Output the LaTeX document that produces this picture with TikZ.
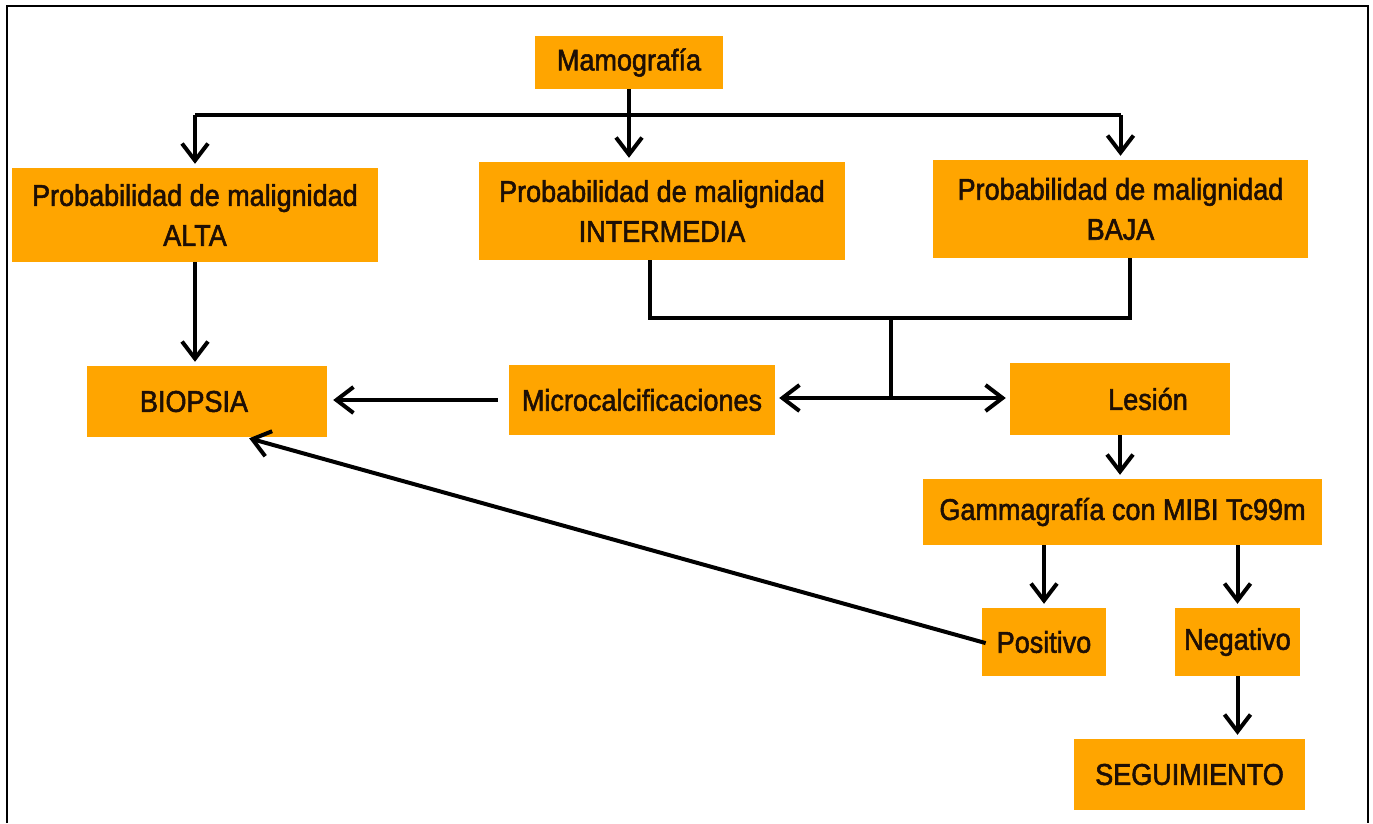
\documentclass[tikz,border=0pt]{standalone}
\usepackage{fontspec}
\setmainfont{Liberation Sans}[FakeStretch=0.9,FakeBold=1.8]
\usetikzlibrary{arrows.meta}
\definecolor{boxorange}{RGB}{255,165,0}
\definecolor{ink}{RGB}{30,15,5}
\begin{document}
\begin{tikzpicture}[x=1pt,y=-1pt,
  box/.style={fill=boxorange, draw=none, inner sep=0pt, text=ink,
    font=\fontsize{30}{40}\selectfont},
  conn/.style={line width=4pt, draw=black},
  arr/.style={conn, -{Straight Barb[length=17pt,width=26pt,line width=4pt]}, shorten >=4pt},
  frame/.style={line width=2.5pt}]
\useasboundingbox (0,0) rectangle (1373,823);
\draw[frame] (7,823) -- (7,6) -- (1368,6) -- (1368,823);

\node[box, minimum width=188pt, minimum height=53pt] (mam) at (629,62.5) {Mamografía};
\node[box, align=center, minimum width=366pt, minimum height=94pt] (alta) at (195,215) {Probabilidad de malignidad\\ALTA};
\node[box, align=center, minimum width=366pt, minimum height=98pt] (inter) at (662,211) {Probabilidad de malignidad\\INTERMEDIA};
\node[box, align=center, minimum width=375pt, minimum height=98pt] (baja) at (1120.5,209) {Probabilidad de malignidad\\BAJA};
\node[box, minimum width=240pt, minimum height=71pt] (biopsia) at (207,401.5) {BIOPSIA\hspace*{26pt}};
\node[box, minimum width=266pt, minimum height=70pt] (micro) at (642,400) {Microcalcificaciones};
\node[box, minimum width=220pt, minimum height=72pt] (lesion) at (1120,399) {\hspace*{56pt}Lesión};
\node[box, minimum width=399pt, minimum height=66pt] (gamma) at (1122.5,512) {Gammagrafía con MIBI Tc99m};
\node[box, minimum width=124pt, minimum height=68pt] (pos) at (1044,642) {Positivo};
\node[box, minimum width=125pt, minimum height=68pt] (neg) at (1237.5,642) {Negativo};
\node[box, minimum width=231pt, minimum height=71pt] (seg) at (1189.5,774.5) {SEGUIMIENTO};

% from Mamografia
\coordinate (j1) at (mam.south |- 0,115);
\draw[conn] (mam.south) -- (j1);
\draw[conn] (alta.north |- j1) -- (j1 -| baja.north);
\draw[arr] (alta.north |- j1) -- (alta.north);
\draw[arr] (j1) -- (j1 |- inter.north);
\draw[arr] (baja.north |- j1) -- (baja.north);

% intermedia / baja merge
\coordinate (k1) at (650,318);
\coordinate (k2) at (1130,318);
\coordinate (k3) at (891,318);
\coordinate (k4) at (891,398);
\draw[conn] (k1 |- inter.south) -- (k1) -- (k2) -- (k2 |- baja.south);
\draw[conn] (k3) -- (k4);
\draw[arr] (k4) -- (k4 -| micro.east);
\draw[arr] (k4) -- (k4 -| lesion.west);

% to biopsia
\draw[arr] (alta.south) -- (alta.south |- biopsia.north);
\draw[arr, shorten <=11pt, shorten >=6pt] (micro.west) -- (micro.west -| biopsia.east);
\draw[arr, shorten <=-4pt] (pos.west) -- (biopsia.-43);

% lesion chain
\draw[arr] (lesion.south) -- (lesion.south |- gamma.north);
\draw[arr] (pos.north |- gamma.south) -- (pos.north);
\draw[arr] (neg.north |- gamma.south) -- (neg.north);
\draw[arr] (neg.south) -- (neg.south |- seg.north);
\end{tikzpicture}
\end{document}
